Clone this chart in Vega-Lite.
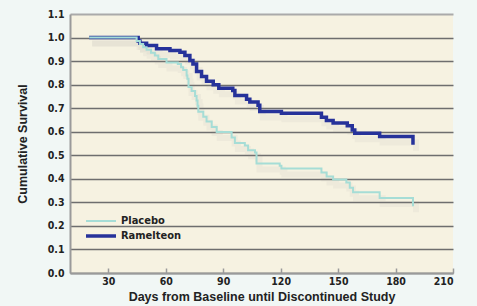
{
  "$schema": "https://vega.github.io/schema/vega-lite/v6.json",
  "width": 383,
  "height": 259,
  "autosize": {"type": "none"},
  "padding": {"left": 70, "top": 14, "right": 24, "bottom": 33},
  "background": "#f1f7f5",
  "config": {
    "view": {"fill": "#f6f2e1", "stroke": null},
    "axis": {"labelFont": "DejaVu Sans Condensed, Liberation Sans, sans-serif", "labelFontWeight": "bold", "labelFontSize": 10.5, "labelColor": "#222222", "titleFont": "Liberation Sans, sans-serif", "titleFontWeight": "bold", "titleFontSize": 12.5, "titleColor": "#222222", "domainColor": "#9a9a9a", "domainWidth": 2}
  },
  "data": {"values": [
    {"group": "Ramelteon", "day": 20, "s": 1.0},
    {"group": "Ramelteon", "day": 45.6, "s": 0.985},
    {"group": "Ramelteon", "day": 46.5, "s": 0.976},
    {"group": "Ramelteon", "day": 50.0, "s": 0.966},
    {"group": "Ramelteon", "day": 55.2, "s": 0.952},
    {"group": "Ramelteon", "day": 62.2, "s": 0.945},
    {"group": "Ramelteon", "day": 67.4, "s": 0.938},
    {"group": "Ramelteon", "day": 70.0, "s": 0.924},
    {"group": "Ramelteon", "day": 72.6, "s": 0.903},
    {"group": "Ramelteon", "day": 74.2, "s": 0.888},
    {"group": "Ramelteon", "day": 76.1, "s": 0.856},
    {"group": "Ramelteon", "day": 78.7, "s": 0.835},
    {"group": "Ramelteon", "day": 81.3, "s": 0.814},
    {"group": "Ramelteon", "day": 84.8, "s": 0.800},
    {"group": "Ramelteon", "day": 87.7, "s": 0.785},
    {"group": "Ramelteon", "day": 95.0, "s": 0.775},
    {"group": "Ramelteon", "day": 96.1, "s": 0.754},
    {"group": "Ramelteon", "day": 102.2, "s": 0.738},
    {"group": "Ramelteon", "day": 103.9, "s": 0.726},
    {"group": "Ramelteon", "day": 108.2, "s": 0.712},
    {"group": "Ramelteon", "day": 109.1, "s": 0.686},
    {"group": "Ramelteon", "day": 120.4, "s": 0.679},
    {"group": "Ramelteon", "day": 141.3, "s": 0.662},
    {"group": "Ramelteon", "day": 143.9, "s": 0.648},
    {"group": "Ramelteon", "day": 147.4, "s": 0.637},
    {"group": "Ramelteon", "day": 154.8, "s": 0.625},
    {"group": "Ramelteon", "day": 157.4, "s": 0.607},
    {"group": "Ramelteon", "day": 158.7, "s": 0.594},
    {"group": "Ramelteon", "day": 171.7, "s": 0.580},
    {"group": "Ramelteon", "day": 189.1, "s": 0.545},
    {"group": "Placebo", "day": 20, "s": 1.0},
    {"group": "Placebo", "day": 44.8, "s": 0.985},
    {"group": "Placebo", "day": 46.5, "s": 0.973},
    {"group": "Placebo", "day": 48.2, "s": 0.959},
    {"group": "Placebo", "day": 50.0, "s": 0.948},
    {"group": "Placebo", "day": 52.3, "s": 0.935},
    {"group": "Placebo", "day": 54.3, "s": 0.924},
    {"group": "Placebo", "day": 56.1, "s": 0.909},
    {"group": "Placebo", "day": 60.4, "s": 0.894},
    {"group": "Placebo", "day": 66.3, "s": 0.888},
    {"group": "Placebo", "day": 68.0, "s": 0.874},
    {"group": "Placebo", "day": 69.1, "s": 0.862},
    {"group": "Placebo", "day": 70.9, "s": 0.839},
    {"group": "Placebo", "day": 71.3, "s": 0.825},
    {"group": "Placebo", "day": 71.9, "s": 0.79},
    {"group": "Placebo", "day": 73.5, "s": 0.773},
    {"group": "Placebo", "day": 75.3, "s": 0.752},
    {"group": "Placebo", "day": 76.1, "s": 0.733},
    {"group": "Placebo", "day": 76.6, "s": 0.71},
    {"group": "Placebo", "day": 77.0, "s": 0.685},
    {"group": "Placebo", "day": 79.6, "s": 0.664},
    {"group": "Placebo", "day": 81.3, "s": 0.643},
    {"group": "Placebo", "day": 84.0, "s": 0.62},
    {"group": "Placebo", "day": 86.6, "s": 0.599},
    {"group": "Placebo", "day": 94.4, "s": 0.575},
    {"group": "Placebo", "day": 96.1, "s": 0.552},
    {"group": "Placebo", "day": 101.3, "s": 0.542},
    {"group": "Placebo", "day": 103.0, "s": 0.521},
    {"group": "Placebo", "day": 106.6, "s": 0.512},
    {"group": "Placebo", "day": 107.4, "s": 0.465},
    {"group": "Placebo", "day": 119.5, "s": 0.455},
    {"group": "Placebo", "day": 120.4, "s": 0.444},
    {"group": "Placebo", "day": 141.3, "s": 0.427},
    {"group": "Placebo", "day": 144.0, "s": 0.41},
    {"group": "Placebo", "day": 147.4, "s": 0.397},
    {"group": "Placebo", "day": 154.3, "s": 0.384},
    {"group": "Placebo", "day": 156.1, "s": 0.362},
    {"group": "Placebo", "day": 157.8, "s": 0.343},
    {"group": "Placebo", "day": 171.7, "s": 0.319},
    {"group": "Placebo", "day": 189.1, "s": 0.283}
  ]},
  "encoding": {
    "x": {"field": "day", "type": "quantitative", "scale": {"domain": [10, 210], "nice": false, "zero": false},
      "axis": {"title": "Days from Baseline until Discontinued Study", "values": [30, 60, 90, 120, 150, 180, 210], "grid": false, "tickSize": -5, "tickColor": "#9a9a9a", "tickWidth": 1.5, "labelPadding": 8, "titlePadding": 4}},
    "y": {"field": "s", "type": "quantitative", "scale": {"domain": [0, 1.1], "nice": false},
      "axis": {"title": "Cumulative Survival", "values": [0, 0.1, 0.2, 0.3, 0.4, 0.5, 0.6, 0.7, 0.8, 0.9, 1.0, 1.1], "format": ".1f", "ticks": false, "labelPadding": 6, "titlePadding": 18,
        "gridColor": {"condition": {"test": "datum.value >= 1.05", "value": "#aaaaaa"}, "value": "#6e6e6e"},
        "gridWidth": {"condition": {"test": "datum.value >= 1.05", "value": 2}, "value": 1.3}}}
  },
  "layer": [
    {
      "mark": {"type": "line", "interpolate": "step-after", "stroke": "#888888", "opacity": 0.07, "strokeWidth": 6, "xOffset": 3, "yOffset": 6},
      "encoding": {"detail": {"field": "group"}}
    },
    {
      "mark": {"type": "line", "interpolate": "step-after"},
      "encoding": {
        "color": {"field": "group", "type": "nominal",
          "scale": {"domain": ["Placebo", "Ramelteon"], "range": ["#a6ddd6", "#26329a"]},
          "legend": {"title": null, "orient": "none", "legendX": 24, "legendY": 201, "symbolType": "M-3,0H3", "symbolSize": 100, "symbolStrokeWidth": 3, "rowPadding": 3, "labelFont": "DejaVu Sans Condensed, Liberation Sans, sans-serif", "labelFontWeight": "bold", "labelFontSize": 11, "labelColor": "#222222", "labelOffset": 13}},
        "strokeWidth": {"field": "group", "type": "nominal", "scale": {"domain": ["Placebo", "Ramelteon"], "range": [2, 3.5]}, "legend": null},
        "order": {"field": "day"}
      }
    }
  ]
}
